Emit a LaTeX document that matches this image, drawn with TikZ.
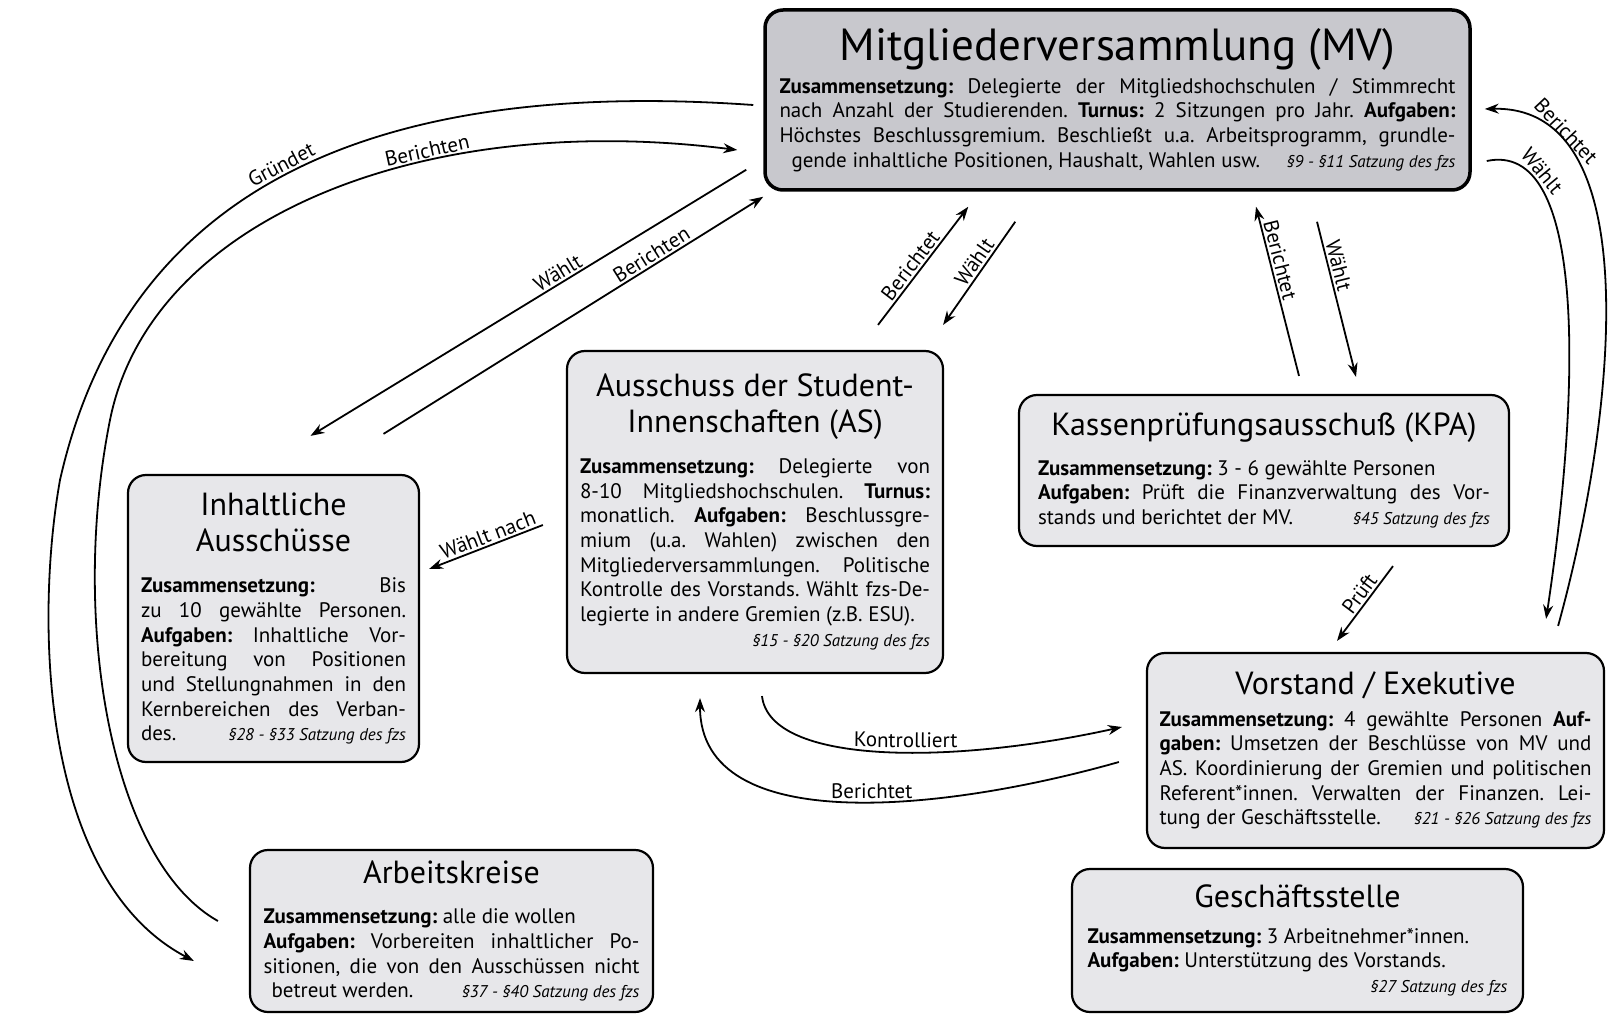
\documentclass[tikz,border=0pt]{standalone}
\usepackage{fontspec}
\setmainfont{PT Sans}
\usetikzlibrary{arrows.meta,calc}
\definecolor{mvgrau}{RGB}{200,200,205}
\definecolor{boxgrau}{RGB}{231,231,234}
\setlength{\parindent}{0pt}
\tolerance=9999
\newcommand{\titel}[2]{{\centering\fontsize{32}{36}\selectfont #2\par}\vspace{#1}}
\newcommand{\satzung}[1]{{\fontsize{17}{19}\selectfont\itshape #1}}

\begin{document}
\begin{tikzpicture}[x=1pt,y=-1pt,
  gremium/.style={draw, rounded corners=18pt, line width=2.2pt, fill=boxgrau,
    align=justify, inner sep=0pt, font=\fontsize{21}{24.7}\selectfont\frenchspacing},
  pfeil/.style={line width=1.8pt, -{Stealth[length=14pt,width=10pt]}},
  beschr/.style={font=\fontsize{21}{24}\selectfont, sloped, above, inner sep=2pt}]
  \useasboundingbox (0,0) rectangle (1610,1014);

  % die Gremien
  \node[gremium, fill=mvgrau, line width=3.5pt, text width=676pt, minimum width=705pt, minimum height=180pt] (mv) at (1117.5,100) {%
    {\centering\fontsize{45}{50}\selectfont Mitgliederversammlung (MV)\par}\vspace{7pt}
    \textbf{Zusammensetzung:} Delegierte der Mitgliedshochschulen / Stimmrecht\linebreak
    nach Anzahl der Studierenden. \textbf{Turnus:} 2 Sitzungen pro Jahr. \textbf{Aufgaben:}\linebreak
    Höchstes Beschlussgremium. Beschließt u.a. Arbeitsprogramm, grundle-\linebreak
    \hspace*{12pt}gende inhaltliche Positionen, Haushalt, Wahlen usw. \hfill\satzung{§9 - §11 Satzung des fzs}\hspace*{8pt}};
  \node[gremium, text width=350pt, minimum width=376pt, minimum height=322pt] (as) at (755,512) {%
    \titel{16pt}{Ausschuss der Student-\\Innenschaften (AS)}
    \textbf{Zusammensetzung:} Delegierte von\linebreak
    8-10 Mitgliedshochschulen. \textbf{Turnus:}\linebreak
    monatlich. \textbf{Aufgaben:} Beschlussgre-\linebreak
    mium (u.a. Wahlen) zwischen den\linebreak
    Mitgliederversammlungen. Politische\linebreak
    Kontrolle des Vorstands. Wählt fzs-De-\linebreak
    legierte in andere Gremien (z.B. ESU).\par
    \hspace*{\fill}\satzung{§15 - §20 Satzung des fzs}};
  \node[gremium, text width=265pt, minimum width=291pt, minimum height=287pt] (inh) at (273.5,618.5) {%
    \titel{17pt}{Inhaltliche\\Ausschüsse}
    \textbf{Zusammensetzung:} Bis\linebreak
    zu 10 gewählte Personen.\linebreak
    \textbf{Aufgaben:} Inhaltliche Vor-\linebreak
    bereitung von Positionen\linebreak
    und Stellungnahmen in den\linebreak
    Kernbereichen des Verban-\linebreak
    des. \hfill\satzung{§28 - §33 Satzung des fzs}};
  \node[gremium, text width=452pt, minimum width=490pt, minimum height=151pt] (kpa) at (1264,470.5) {%
    \titel{15pt}{Kassenprüfungsausschuß (KPA)}
    \textbf{Zusammensetzung:} 3 - 6 gewählte Personen\newline
    \textbf{Aufgaben:} Prüft die Finanzverwaltung des Vor-\linebreak
    stands und berichtet der MV. \hfill\satzung{§45 Satzung des fzs}};
  \node[gremium, text width=432pt, minimum width=457pt, minimum height=195pt] (vor) at (1375.5,750.5) {%
    \titel{7pt}{Vorstand / Exekutive}
    \textbf{Zusammensetzung:} 4 gewählte Personen \textbf{Auf-}\linebreak
    \textbf{gaben:} Umsetzen der Beschlüsse von MV und\linebreak
    AS. Koordinierung der Gremien und politischen\linebreak
    Referent*innen. Verwalten der Finanzen. Lei-\linebreak
    tung der Geschäftsstelle. \hfill\satzung{§21 - §26 Satzung des fzs}};
  \node[gremium, text width=376pt, minimum width=403pt, minimum height=162pt] (ak) at (451.5,931) {%
    \titel{16pt}{Arbeitskreise}
    \textbf{Zusammensetzung:} alle die wollen\newline
    \textbf{Aufgaben:} Vorbereiten inhaltlicher Po-\linebreak
    sitionen, die von den Ausschüssen nicht\linebreak
    \hspace*{8pt}betreut werden. \hfill\satzung{§37 - §40 Satzung des fzs}\hspace*{8pt}};
  \node[gremium, text width=420pt, minimum width=451pt, minimum height=143pt] (gs) at (1297.5,940.5) {%
    \titel{11pt}{Geschäftsstelle}
    \textbf{Zusammensetzung:} 3 Arbeitnehmer*innen.\newline
    \textbf{Aufgaben:} Unterstützung des Vorstands.\par
    \hspace*{\fill}\satzung{§27 Satzung des fzs}};

  % Enden der Pfeile
  \coordinate (gr-a) at ($(mv.west)+(-10,5)$);
  \coordinate (gr-b) at ($(ak.west)+(-55,30)$);
  \coordinate (bak-a) at ($(ak.west)+(-31,-10)$);
  \coordinate (bak-b) at ($(mv.west)+(-26,50)$);
  \coordinate (wia-a) at ($(mv.south west)+(-17,-22)$);
  \coordinate (wia-b) at ($(inh.north)+(37,-38)$);
  \coordinate (bia-a) at ($(inh.north)+(110,-40)$);
  \coordinate (bia-b) at ($(mv.south west)+(0,5)$);
  \coordinate (bas-a) at ($(as.north)+(123,-25)$);
  \coordinate (bas-b) at ($(mv.south west)+(205,15)$);
  \coordinate (was-a) at ($(mv.south west)+(252,30)$);
  \coordinate (was-b) at ($(as.north east)+(-1,-25)$);
  \coordinate (bkpa-a) at ($(kpa.north)+(35,-18)$);
  \coordinate (bkpa-b) at ($(mv.south)+(138.5,15)$);
  \coordinate (wkpa-a) at ($(mv.south)+(199.5,30)$);
  \coordinate (wkpa-b) at ($(kpa.north)+(92,-17)$);
  \coordinate (bvo-a) at ($(vor.north east)+(-47,-26)$);
  \coordinate (bvo-b) at ($(mv.east)+(13,9)$);
  \coordinate (wvo-a) at ($(mv.east)+(15,61)$);
  \coordinate (wvo-b) at ($(vor.north east)+(-59,-33)$);
  \coordinate (pr-a) at ($(kpa.south)+(129,19)$);
  \coordinate (pr-b) at ($(vor.north)+(-38.5,-11)$);
  \coordinate (wn-a) at ($(as.west)+(-23,13)$);
  \coordinate (wn-b) at ($(inh.east)+(9,-49.5)$);
  \coordinate (ko-a) at ($(as.south)+(7,22)$);
  \coordinate (ko-b) at ($(vor.west)+(-24,-23.5)$);
  \coordinate (bv-a) at ($(vor.west)+(-27,11.5)$);
  \coordinate (bv-b) at ($(as.south)+(-55,24)$);

  % linke Boegen
  \draw[pfeil] (gr-a) .. controls (400,80) and (130,170) .. (60,480) node[beschr, pos=0.52] (l-gr) {Gründet}
    .. controls (35,620) and (40,880) .. (gr-b);
  \draw[pfeil] (bak-a) .. controls (110,860) and (70,620) .. (110,420)
    .. controls (150,220) and (420,110) .. (bak-b) node[beschr, pos=0.65] (l-bak) {Berichten};
  \draw[pfeil] (wia-a) -- node[beschr, pos=0.42] (l-wia) {Wählt} (wia-b);
  \draw[pfeil] (bia-a) -- node[beschr, pos=0.72] (l-bia) {Berichten} (bia-b);

  % MV und AS, MV und KPA
  \draw[pfeil] (bas-a) -- node[beschr, pos=0.45] (l-bas) {Berichtet} (bas-b);
  \draw[pfeil] (was-a) -- node[beschr, pos=0.45] (l-was) {Wählt} (was-b);
  \draw[pfeil] (bkpa-a) -- node[beschr, pos=0.67] (l-bkpa) {Berichtet} (bkpa-b);
  \draw[pfeil] (wkpa-a) -- node[beschr, pos=0.3] (l-wkpa) {Wählt} (wkpa-b);

  % rechte Boegen
  \draw[pfeil] (bvo-a) .. controls (1615,420) and (1650,105) .. (bvo-b) node[beschr, pos=0.81] (l-bvo) {Berichtet};
  \draw[pfeil] (wvo-a) .. controls (1585,140) and (1582,380) .. (wvo-b) node[beschr, pos=0.2] (l-wvo) {Wählt};

  \draw[pfeil] (pr-a) -- node[beschr, pos=0.45] (l-pr) {Prüft} (pr-b);
  \draw[pfeil] (wn-a) -- node[beschr, pos=0.45] (l-wn) {Wählt nach} (wn-b);

  % AS und Vorstand
  \draw[pfeil] (ko-a) .. controls (770,765) and (950,765) .. (ko-b) node[beschr, pos=0.56, inner sep=4pt] (l-ko) {Kontrolliert};
  \draw[pfeil] (bv-a) .. controls (950,810) and (700,840) .. (bv-b) node[beschr, pos=0.45] (l-bv) {Berichtet};
\end{tikzpicture}
\end{document}
